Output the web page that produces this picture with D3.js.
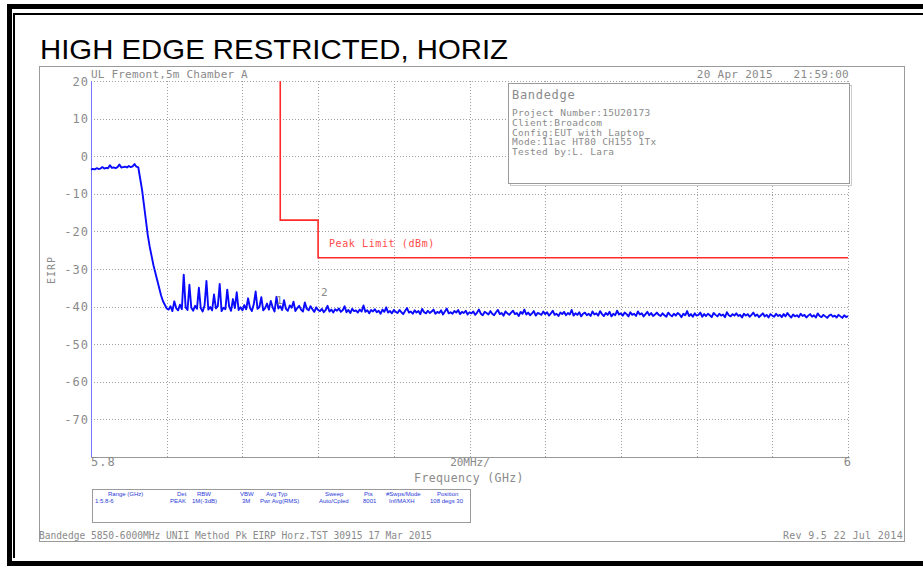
<!DOCTYPE html>
<meta charset="utf-8">
<script src="https://d3js.org/d3.v7.min.js"></script>
<style>
body { margin: 0; background: #fff; }
text { font-family: "DejaVu Sans Mono", monospace; fill: #8a8a8a; }
.grid line { stroke: #a0a0a0; stroke-width: 1; stroke-dasharray: 1,2; }
.parm { font-family: "Liberation Sans", Arial, sans-serif; font-size: 6px; fill: #2a3ad8; }
</style>
<body>
<script>

// sweep: 5.800 .. 6.000 GHz, one reading every 0.5 MHz (dBm)
var sweepStart = 5.8, sweepStepGHz = 0.0005;
var traceDbm = [
  -3.6,-3.4,-3.5,-3.2,-3.4,-3.3,-2.9,-3.3,-3.1,-3.2,-2.4,-3.1,-3.0,-3.2,-2.9,-2.2,-3.0,-2.9,-2.8,-3.0,-2.6,-2.9,-2.7,-2.1,-2.8,-3.0,
  -6,-9,-13,-17,-21,-24,-26.5,-29,-31,-33,-35,-37,-38.5,-39.5,-40.5,
  -40.8,-39.9,-41.2,-38.6,-40.4,-41.0,-39.5,-40.7,-31.5,-40.2,
  -40.9,-34.2,-40.3,-41.1,-39.8,-40.6,-35.0,-40.4,-41.3,-39.7,
  -33.2,-40.8,-40.1,-41.0,-36.8,-40.5,-39.9,-34.0,-41.2,-40.3,
  -40.7,-35.5,-40.0,-41.1,-38.0,-40.4,-36.2,-40.9,-40.2,-41.0,
  -39.6,-40.7,-37.8,-40.3,-41.2,-39.4,-36.0,-40.6,-40.1,-37.5,
  -41.0,-40.4,-39.2,-40.8,-38.5,-40.2,-41.3,-37.4,-40.5,-39.9,
  -40.9,-38.3,-40.6,-41.1,-39.7,-40.3,-38.7,-41.2,-40.4,-39.8,
  -40.8,-41.3,-38.9,-40.6,-41.0,-39.9,-40.7,-41.4,-40.2,-40.9,
  -41.2,-40.6,-41.5,-40.9,-39.8,-41.3,-40.8,-41.6,-40.7,-41.1,
  -40.5,-41.4,-41.0,-39.9,-41.5,-40.9,-41.7,-40.6,-41.2,-41.0,
  -41.6,-40.8,-41.3,-39.7,-41.4,-41.0,-41.8,-40.9,-41.3,-40.7,
  -41.5,-41.1,-41.9,-40.8,-41.4,-40.2,-41.6,-41.2,-41.8,-40.9,
  -41.4,-41.7,-40.9,-41.5,-42.0,-41.1,-40.4,-41.6,-41.3,-41.9,
  -41.0,-41.6,-41.2,-42.0,-40.6,-41.5,-41.8,-41.1,-41.7,-41.3,
  -40.8,-41.9,-41.4,-41.7,-41.0,-42.1,-41.3,-40.5,-41.8,-41.5,
  -41.9,-41.2,-41.6,-40.9,-42.0,-41.4,-41.7,-41.1,-42.1,-41.5,
  -41.8,-41.3,-42.2,-41.6,-40.8,-41.9,-42.3,-41.4,-41.7,-42.1,
  -41.2,-41.9,-42.3,-41.5,-40.9,-42.0,-41.7,-42.4,-41.3,-41.8,
  -42.2,-41.6,-41.1,-42.0,-41.7,-42.5,-41.4,-41.9,-40.8,-42.1,
  -41.6,-42.3,-41.8,-41.2,-42.4,-41.7,-41.9,-42.2,-41.3,-42.0,
  -41.5,-42.4,-41.8,-41.1,-42.2,-41.9,-42.5,-41.6,-42.0,-41.4,
  -42.3,-41.7,-42.1,-40.9,-42.4,-41.8,-42.2,-41.5,-42.6,-41.9,
  -41.6,-42.3,-41.9,-42.5,-41.3,-42.1,-41.8,-42.4,-41.2,-42.0,
  -42.5,-41.7,-42.2,-41.4,-42.6,-41.9,-42.3,-41.1,-42.1,-41.8,
  -42.4,-41.6,-42.0,-42.6,-41.5,-42.2,-41.9,-42.5,-41.3,-42.1,
  -41.8,-42.6,-42.0,-41.4,-42.3,-41.7,-42.5,-42.1,-41.6,-42.2,
  -42.5,-41.8,-42.3,-42.7,-41.6,-42.2,-42.6,-41.9,-42.4,-41.7,
  -42.1,-42.8,-41.9,-42.3,-41.2,-42.5,-42.0,-42.7,-41.8,-42.4,
  -42.2,-41.6,-42.7,-42.0,-42.5,-41.9,-42.3,-42.8,-41.7,-42.2,
  -42.6,-41.9,-42.4,-42.1,-42.8,-41.5,-42.3,-42.6,-42.0,-42.4,
  -41.8,-42.5,-42.2,-42.9,-41.9,-42.4,-42.0,-42.7,-42.2,-41.6,
  -42.5,-42.1,-42.8,-42.3,-41.8,-42.6,-42.2,-42.9,-42.0,-42.4,
  -42.7,-41.9,-42.5,-42.2,-42.8,-42.0,-42.6,-41.7,-42.4,-42.9,
  -42.1,-42.6,-42.3,-42.8,-41.9,-42.5,-42.2,-42.9,-42.4,-42.0,
  -42.7,-42.3,-42.9,-41.8,-42.5,-42.8,-42.2,-42.6,-43.0,-42.4,
  -42.1,-42.7,-42.4,-42.9,-42.2,-42.6,-43.0,-42.3,-42.8,-42.5
];

// peak limit line (GHz, dBm)
var limitFreq = [5.85, 5.85, 5.86, 5.86, 6.0];
var limitDbm  = [20, -17, -17, -27, -27];

var yTicks = [20, 10, 0, -10, -20, -30, -40, -50, -60, -70];
var xTicks = [5.8, 5.82, 5.84, 5.86, 5.88, 5.9, 5.92, 5.94, 5.96, 5.98, 6.0];

var infoLines = ["Project Number:15U20173", "Client:Broadcom", "Config:EUT with Laptop",
                 "Mode:11ac HT80 CH155 1Tx", "Tested by:L. Lara"];
var parmHeads = ["Range (GHz)", "Det", "RBW", "VBW", "Avg Typ", "Sweep", "Pts", "#Swps/Mode", "Position"];
var parmVals  = ["1:5.8-6", "PEAK", "1M(-3dB)", "3M", "Pwr Avg(RMS)", "Auto/Cpled", "8001", "Inf/MAXH", "108 degs 30"];
var parmHeadX = [108, 177, 197, 240, 266, 325, 364, 386, 437];
var parmValX  = [95, 170, 192, 242, 260, 319, 363, 389, 430];

var W = 923, H = 569;
var svg = d3.select("body").append("svg").attr("width", W).attr("height", H);

// page borders
svg.append("path").attr("d", "M9.5,566V6.5H923M9.5,563.5H923").attr("fill", "none")
    .attr("stroke", "#000").attr("stroke-width", 5);
svg.append("path").attr("d", "M14,558V14H923").attr("fill", "none")
    .attr("stroke", "#000").attr("stroke-width", 2);

svg.append("text").attr("x", 40).attr("y", 59)
    .style("font-family", "'Liberation Sans', Arial, sans-serif").style("font-size", "28px")
    .style("fill", "#000").attr("textLength", 468).attr("lengthAdjust", "spacingAndGlyphs")
    .text("HIGH EDGE RESTRICTED, HORIZ");

// analyzer frame
svg.append("rect").attr("x", 39.5).attr("y", 66.5).attr("width", 865).attr("height", 475)
    .attr("fill", "none").attr("stroke", "#9a9a9a");

var x = d3.scaleLinear().domain([5.8, 6.0]).range([91, 848]);
var y = d3.scaleLinear().domain([-80, 20]).range([457, 81]);

var grid = svg.append("g").attr("class", "grid");
grid.selectAll(".v").data(xTicks).enter().append("line")
    .attr("x1", function(d) { return Math.round(x(d)) + 0.5; })
    .attr("x2", function(d) { return Math.round(x(d)) + 0.5; })
    .attr("y1", y(20)).attr("y2", y(-80));
grid.selectAll(".h").data(yTicks).enter().append("line")
    .attr("y1", function(d) { return Math.round(y(d)) + 0.5; })
    .attr("y2", function(d) { return Math.round(y(d)) + 0.5; })
    .attr("x1", x(5.8)).attr("x2", x(6.0));

svg.append("line").attr("x1", 91).attr("x2", 848).attr("y1", 457.5).attr("y2", 457.5)
    .attr("stroke", "#999");
svg.append("line").attr("x1", 91.5).attr("x2", 91.5).attr("y1", 81).attr("y2", 457)
    .attr("stroke", "#7878ff");

svg.selectAll(".ytl").data(yTicks).enter().append("text")
    .attr("x", 89).attr("y", function(d) { return y(d); }).attr("dy", "0.38em")
    .attr("text-anchor", "end").style("font-size", "12px").style("letter-spacing", "1px")
    .text(function(d) { return d; });

svg.append("text").attr("transform", "translate(55,270) rotate(-90)")
    .attr("text-anchor", "middle").style("font-size", "10px").style("letter-spacing", "1px").text("EIRP");

svg.append("text").attr("x", 91).attr("y", 466).style("font-size", "12px").style("letter-spacing", "1px").text("5.8");
svg.append("text").attr("x", 851).attr("y", 466).attr("text-anchor", "end").style("font-size", "12px").text("6");
svg.append("text").attr("x", 470).attr("y", 466).attr("text-anchor", "middle").style("font-size", "11px").text("20MHz/");
svg.append("text").attr("x", 469).attr("y", 482).attr("text-anchor", "middle")
    .style("font-size", "11.5px").style("letter-spacing", "0.4px").text("Frequency (GHz)");

svg.append("text").attr("x", 91).attr("y", 78).style("font-size", "11px").style("letter-spacing", "0.2px")
    .text("UL Fremont,5m Chamber A");
svg.append("text").attr("x", 849).attr("y", 78).attr("text-anchor", "end").style("font-size", "11px")
    .style("letter-spacing", "0.3px").style("white-space", "pre").text("20 Apr 2015   21:59:00");

// limit line
var limitLine = d3.line().x(function(d) { return x(d[0]); }).y(function(d) { return y(d[1]); });
svg.append("path").datum(d3.zip(limitFreq, limitDbm)).attr("d", limitLine)
    .attr("fill", "none").attr("stroke", "#ff2a2a").attr("stroke-width", 1.6);
svg.append("text").attr("x", 329).attr("y", 247).style("font-size", "10px").style("fill", "#ff4a4a")
    .style("letter-spacing", "0.6px").text("Peak Limit (dBm)");

// info box
svg.append("rect").attr("x", 510.5).attr("y", 85.5).attr("width", 341).attr("height", 100)
    .attr("fill", "none").attr("stroke", "#ccc");
svg.append("rect").attr("x", 508.5).attr("y", 83.5).attr("width", 341).attr("height", 100)
    .attr("fill", "#fff").attr("stroke", "#9a9a9a");
svg.append("text").attr("x", 512).attr("y", 99).style("font-size", "12px").style("letter-spacing", "0.7px").text("Bandedge");
svg.selectAll(".info").data(infoLines).enter().append("text")
    .attr("x", 512).attr("y", function(d, i) { return 116 + i * 9.8; })
    .style("font-size", "9.5px").style("letter-spacing", "0.3px").text(function(d) { return d; });

// trace
var trace = d3.line()
    .x(function(d, i) { return x(sweepStart + i * sweepStepGHz); })
    .y(function(d) { return y(d); });
svg.append("path").datum(traceDbm).attr("d", trace)
    .attr("fill", "none").attr("stroke", "#0a0aff").attr("stroke-width", 1.9)
    .attr("stroke-linejoin", "round");

svg.append("text").attr("x", 276).attr("y", 304).style("font-size", "11px").text("1");
svg.append("text").attr("x", 321).attr("y", 296).style("font-size", "11px").text("2");

// parameter box
svg.append("rect").attr("x", 92.5).attr("y", 489.5).attr("width", 378).attr("height", 33)
    .attr("fill", "none").attr("stroke", "#9a9a9a");
svg.selectAll(".ph").data(parmHeads).enter().append("text").attr("class", "parm")
    .attr("x", function(d, i) { return parmHeadX[i]; }).attr("y", 496).text(function(d) { return d; });
svg.selectAll(".pv").data(parmVals).enter().append("text").attr("class", "parm")
    .attr("x", function(d, i) { return parmValX[i]; }).attr("y", 503).text(function(d) { return d; });

// footer
svg.append("text").attr("x", 39).attr("y", 539).style("font-size", "9.6px")
    .text("Bandedge 5850-6000MHz UNII Method Pk EIRP Horz.TST 30915 17 Mar 2015");
svg.append("text").attr("x", 903).attr("y", 539).attr("text-anchor", "end").style("font-size", "10px")
    .style("letter-spacing", "0.3px").text("Rev 9.5 22 Jul 2014");

</script>
</body>
</html>
